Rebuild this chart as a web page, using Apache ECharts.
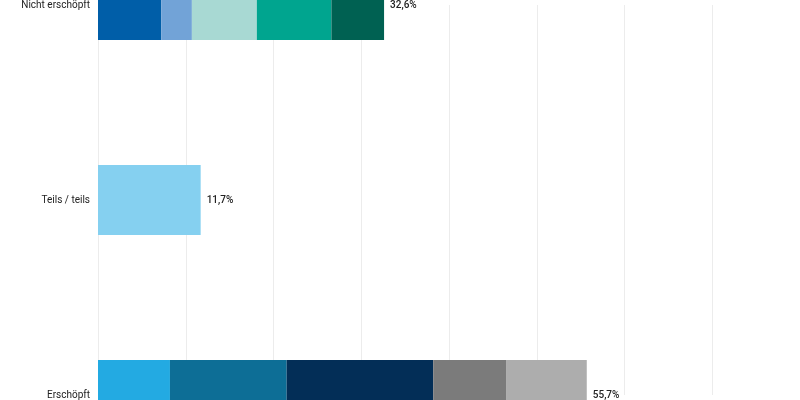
<!DOCTYPE html>
<html><head><meta charset="utf-8">
<script src="https://cdn.jsdelivr.net/npm/echarts@6/dist/echarts.min.js"></script>
<style>html,body{margin:0;padding:0;background:#fff}#c{width:800px;height:400px}</style>
</head><body><div id="c"></div>
<script>
var categories = ['Nicht erschöpft', 'Teils / teils', 'Erschöpft']
// segment values per bar (left to right)
var nichtValues = [7.2, 3.5, 7.4, 8.5, 6.0]
var teilsValues = [11.7]
var erschoepftValues = [8.2, 13.3, 16.7, 8.3, 9.2]
var totals = ['32,6%', '11,7%', '55,7%']
var nichtColors = ['#005ea8', '#72a3d7', '#a8d9d3', '#00a58f', '#006152']
var teilsColors = ['#85d0f0']
var erschoepftColors = ['#23aae2', '#0d6e96', '#032e57', '#7b7b7b', '#adadad']

var series = []
for (var i = 0; i < 5; i++) {
    var d = [
        nichtValues[i] != null ? { value: nichtValues[i], itemStyle: { color: nichtColors[i] } } : 0,
        teilsValues[i] != null ? { value: teilsValues[i], itemStyle: { color: teilsColors[i] } } : 0,
        erschoepftValues[i] != null ? { value: erschoepftValues[i], itemStyle: { color: erschoepftColors[i] } } : 0
    ]
    series.push({ type: 'bar', stack: 'a', barWidth: 70, data: d, silent: true })
}
series.push({
    type: 'bar', stack: 'a', data: [0, 0, 0], barWidth: 70,
    label: {
        show: true, position: 'right', distance: 6, color: '#222', fontSize: 10,
        fontFamily: 'Roboto', fontWeight: 500,
        formatter: function (p) { return totals[p.dataIndex] }
    }
})

var chart = echarts.init(document.getElementById('c'))
chart.setOption({
    animation: false,
    grid: { left: 98, top: 0, right: -72, bottom: 0, containLabel: false },
    xAxis: {
        type: 'value', min: 0, max: 80, interval: 10,
        axisLabel: { show: false }, axisLine: { show: false }, axisTick: { show: false },
        splitLine: { lineStyle: { color: '#ececec' } }
    },
    yAxis: {
        type: 'category', data: categories, inverse: true,
        boundaryGap: false, min: -0.355, max: 2.482,
        axisLine: { show: false }, axisTick: { show: false },
        axisLabel: { color: '#222', fontSize: 10, fontFamily: 'Roboto', margin: 8 }
    },
    series: series
})
</script></body></html>
